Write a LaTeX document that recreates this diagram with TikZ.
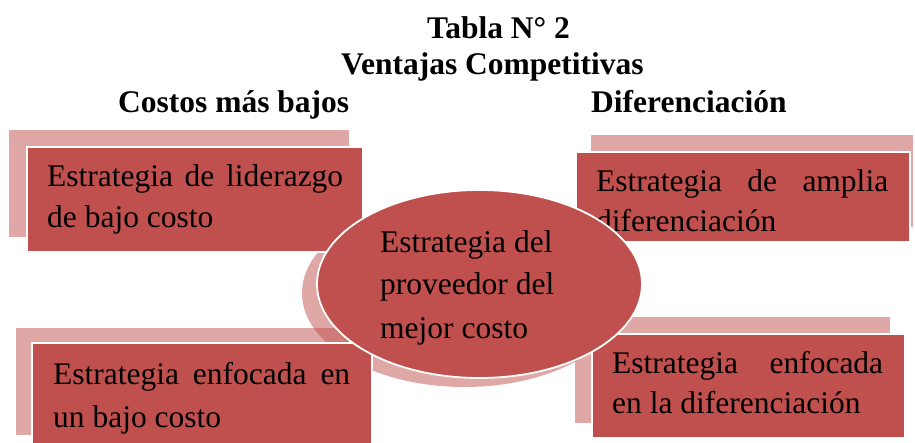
\documentclass[tikz,border=0pt]{standalone}
\usepackage{fontspec}
\setmainfont{Liberation Serif}
\definecolor{redmain}{HTML}{C0504D}
\definecolor{pinkback}{HTML}{DFA7A6}
\begin{document}
\begin{tikzpicture}[x=1pt,y=-1pt,
  backbox/.style={fill=pinkback},
  frontbox/.style={fill=redmain, draw=white, line width=1.2pt},
  txt/.style={anchor=base west, inner sep=0pt, font=\fontsize{31.5}{40}\selectfont},
  head/.style={anchor=base west, inner sep=0pt, font=\fontsize{31.5}{40}\selectfont\bfseries}]
\useasboundingbox (0,0) rectangle (915,443);
% titles
\node[head] (t1) at (427,39) {Tabla N° 2};
\node[head] (t2) at (341,75) {Ventajas Competitivas};
\node[head] (t3) at (118,113) {Costos más bajos};
\node[head] (t4) at (591,113) {Diferenciación};
% back rectangles
\fill[backbox] (9,130) rectangle (349,237);
\fill[backbox] (591,135) rectangle (913,227);
\fill[backbox] (16,328) rectangle (356,435);
\fill[backbox] (575,317) rectangle (890,423);
% shadow of the ellipse
\fill[redmain, opacity=0.5] (464.5,293) ellipse [x radius=162.5pt, y radius=94pt];
% front rectangles
\draw[frontbox] (27,147) rectangle (363,252);
\draw[frontbox] (576,152) rectangle (910,242);
\draw[frontbox] (32,343) rectangle (372,452);
\draw[frontbox] (592,334) rectangle (905,438);
% box texts
\node[txt] (a1) at (47,187) {\makebox[296pt][s]{Estrategia de liderazgo}};
\node[txt] (a2) at (47,228) {de bajo costo};
\node[txt] (b1) at (596,192) {\makebox[292pt][s]{Estrategia de amplia}};
\node[txt] (b2) at (596,232) {diferenciación};
\node[txt] (c1) at (53,384) {\makebox[297pt][s]{Estrategia enfocada en}};
\node[txt] (c2) at (53,427) {un bajo costo};
\node[txt] (d1) at (612,373) {\makebox[271pt][s]{Estrategia enfocada}};
\node[txt] (d2) at (612,413) {en la diferenciación};
% central ellipse
\draw[fill=redmain, draw=white, line width=1.8pt] (479.5,284) ellipse [x radius=162.5pt, y radius=94pt];
\node[txt] (e1) at (380,253) {Estrategia del};
\node[txt] (e2) at (380,295) {proveedor del};
\node[txt] (e3) at (380,338) {mejor costo};
\end{tikzpicture}
\end{document}
